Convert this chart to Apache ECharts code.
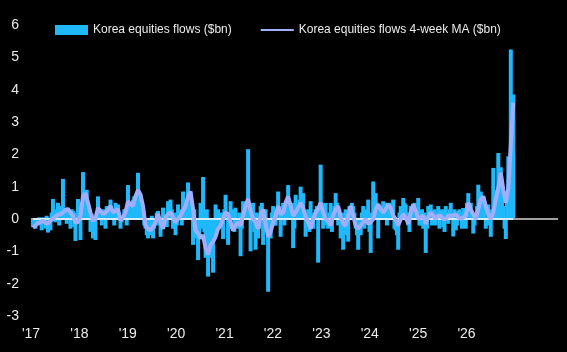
<!DOCTYPE html>
<html>
<head>
<meta charset="utf-8">
<script src="https://cdn.jsdelivr.net/npm/echarts@6/dist/echarts.min.js"></script>
<style>
  html, body { margin: 0; padding: 0; background: #000; }
  #chart { width: 567px; height: 352px; }
</style>
</head>
<body>
<div id="chart"></div>
<script>
// 横轴按年份计，数据从2017年初到2026年初
var startYear = 2017.04;
var barStep = 0.02585;   // 柱子间隔（约1.3周）
var maStep = 0.0517;     // 均线点间隔

var yearTicks = ["'17", "'18", "'19", "'20", "'21", "'22", "'23", "'24", "'25", "'26"];

// Korea equities flows ($bn)
var flows = [
  -0.25, -0.1, -0.3, -0.2, -0.15, 0.05, -0.2, -0.35, 0.05, -0.1,
  -0.3, 0.1, -0.42, -0.2, -0.35, 0.2, 0.62, 0.3, -0.1, 0.25,
  0.5, -0.2, 0.4, 0.25, 1.24, 0.2, 0.3, -0.15, 0.35, 0.2,
  -0.3, 0.3, 0.25, -0.25, -0.68, 0.2, 0.62, 0.3, -0.65, 0.35,
  1.45, 0.6, 0.4, 0.9, 0.3, 0.2, -0.4, 0.15, -0.6, -0.3,
  -0.65, 0.2, 0.7, 0.3, 0.2, -0.2, 0.3, 0.25, -0.3, 0.4,
  0.2, 0.3, 0.6, 0.15, 0.2, -0.2, 0.5, 0.3, 0.45, 0.2,
  -0.3, -0.1, 0.1, 0.3, 0.3, -0.2, 1.05, 0.4, 0.3, 0.2,
  0.6, 0.7, 0.5, 0.3, 1.43, 0.8, 0.6, 0.3, 0.4, -0.2,
  -0.3, -0.5, -0.6, -0.2, -0.5, 0.1, -0.6, -0.3, -0.2, 0.2,
  0.25, -0.2, -0.55, -0.3, 0.35, 0.15, 0.1, -0.25, 0.55, 0.2,
  0.6, 0.3, -0.3, 0.2, -0.5, -0.2, 0.45, 0.2, 0.3, -0.2,
  0.85, 0.3, 0.5, 0.6, 1.13, 0.7, 0.4, 0.2, -0.8, 0.3,
  -0.4, -0.6, -1.27, -0.5, 0.5, -0.3, 1.3, -0.4, -1.2, 0.3,
  -1.78, -0.6, -0.9, -1.2, -1.66, -0.5, 0.45, -0.4, 0.3, -0.2,
  -0.3, 0.2, -0.62, 0.3, 0.75, 0.2, -0.8, -0.3, 0.55, 0.2,
  0.3, -0.4, 0.35, -0.2, -0.3, 0.2, -1.15, -0.3, 0.55, 0.2,
  0.5, 0.35, 2.16, 0.5, -1.0, 0.3, 0.5, -0.4, -0.95, 0.2,
  -0.6, -0.3, 0.4, 0.5, -0.8, 0.2, 0.3, -0.4, -2.25, -0.5,
  -0.6, 0.2, 0.4, -0.2, -0.2, 0.3, 0.85, 0.4, -0.55, 0.2,
  0.5, -0.2, 0.3, 0.6, 1.05, 0.4, 0.2, 0.5, -0.9, -0.3,
  0.75, 0.3, 0.3, 0.6, 1.0, 0.4, 0.8, 0.2, -0.55, -0.2,
  0.3, -0.4, 0.55, -0.2, -0.3, 0.2, 0.3, 0.4, -1.35, 0.3,
  1.68, 0.5, -0.3, 0.3, 0.5, -0.2, -0.3, 0.2, 0.5, -0.4,
  0.2, 0.4, 0.8, 0.5, -0.2, 0.3, -0.6, 0.2, -0.95, -0.3,
  0.3, -0.5, -0.7, 0.4, 0.35, 0.5, 0.4, 0.2, -0.3, -0.5,
  -0.95, -0.3, -0.5, 0.2, 0.4, -0.3, 0.2, 0.3, 0.6, -0.4,
  -1.05, 0.2, 1.16, 0.3, 0.8, 0.5, -0.6, 0.3, 0.2, 0.4,
  0.55, 0.3, 0.5, -0.2, 0.4, 0.5, 0.2, 0.3, 0.6, -0.3,
  -0.35, -0.5, -0.95, 0.2, 0.4, 0.3, 0.65, 0.5, 0.45, 0.2,
  -0.2, -0.4, 0.4, 0.3, 0.4, 0.5, 0.3, 0.2, 0.65, -0.2,
  -0.2, 0.3, -0.3, 0.2, -1.05, -0.3, 0.4, 0.2, 0.45, -0.2,
  0.2, 0.3, -0.2, 0.2, 0.4, -0.3, 0.2, 0.3, -0.25, -0.4,
  0.4, 0.2, -0.15, 0.3, 0.5, 0.2, -0.54, 0.3, -0.35, -0.2,
  0.25, 0.3, 0.2, -0.3, 0.34, 0.2, -0.3, 0.5, 0.8, 0.4,
  0.5, 0.2, -0.45, -0.2, 0.1, 0.4, 1.06, 0.5, 0.85, 0.6,
  0.7, 0.3, -0.3, -0.2, 0.45, 0.2, -0.55, 0.3, 1.58, 0.6,
  0.5, 0.9, 2.04, 1.2, 1.6, 0.8, 0.4, -0.3, -0.62, 0.6,
  1.94, 1.5, 5.24, 3.2, 3.85
];

// Korea equities flows 4-week MA ($bn)
var flowsMA = [
  -0.27, -0.2, -0.12, -0.1, -0.05, -0.12, -0.15, -0.05, 0.0, 0.08,
  0.13, 0.15, 0.2, 0.28, 0.3, 0.2, 0.1, -0.1, -0.1, 0.1,
  0.7, 0.8, 0.5, 0.2, -0.05, 0.0, 0.35, 0.25, 0.15, 0.2,
  0.28, 0.4, 0.2, 0.25, 0.3, -0.05, 0.05, 0.2, 0.55, 0.45,
  0.4, 0.7, 0.9, 0.75, 0.4, -0.2, -0.3, -0.35, -0.25, -0.1,
  0.15, -0.1, -0.3, 0.05, 0.15, 0.2, 0.05, -0.1, 0.0, 0.1,
  0.25, 0.4, 0.7, 0.85, 0.3, -0.35, -0.45, -0.6, -0.5, -0.9,
  -1.1, -0.8, -0.7, -0.55, -0.3, -0.2, 0.0, 0.2, 0.15, -0.1,
  -0.35, -0.2, -0.1, -0.2, 0.1, 0.4, 0.63, 0.25, 0.0, -0.1,
  -0.3, 0.1, 0.3, -0.15, -0.55, -0.4, -0.1, 0.1, 0.4, 0.15,
  0.2, 0.5, 0.7, 0.4, 0.1, 0.2, 0.35, 0.5, 0.35, 0.05,
  -0.1, -0.3, 0.0, 0.2, 0.3, 0.5, 0.2, 0.0, -0.05, -0.2,
  0.1, 0.3, 0.4, 0.05, -0.15, -0.2, 0.1, 0.4, 0.1, -0.2,
  -0.3, -0.2, -0.1, 0.0, -0.15, -0.1, 0.0, 0.3, 0.45, 0.3,
  0.2, 0.3, 0.45, 0.35, 0.1, 0.0, -0.2, 0.0, 0.15, 0.05,
  -0.15, 0.2, 0.45, 0.25, 0.0, 0.05, 0.1, -0.15, 0.05, 0.2,
  0.1, 0.0, 0.1, 0.1, 0.0, 0.0, 0.1, 0.1, 0.1, 0.15,
  0.05, 0.0, 0.05, 0.1, 0.5, 0.3, 0.15, 0.0, 0.3, 0.6,
  0.7, 0.4, 0.15, 0.0, 0.2, 0.6, 0.95, 1.43, 0.9, 0.5,
  0.95, 2.3, 3.6
];

var textColor = '#ececec';
var fontName = "'Liberation Sans', Arial, sans-serif";
var barColor = '#1fb9fb';
var maColor = '#a0aeff';

// 把序号换成横轴上的年份位置
function toXY(arr, step) {
  return arr.map(function (v, i) {
    return [startYear + i * step, v];
  });
}
var barData = toXY(flows, barStep);
var maData = toXY(flowsMA, maStep);
var xFirst = barData[0][0];
var xLast = barData[barData.length - 1][0];

var chart = echarts.init(document.getElementById('chart'));
chart.setOption({
  backgroundColor: '#000',
  animation: false,
  legend: {
    left: 50,
    top: 19,
    itemWidth: 33,
    itemHeight: 10,
    itemGap: 28,
    textStyle: { color: textColor, fontSize: 12, fontFamily: fontName },
    data: [
      { name: 'Korea equities flows ($bn)', icon: 'rect' },
      { name: 'Korea equities flows 4-week MA ($bn)', itemStyle: { opacity: 0 } }
    ]
  },
  grid: { left: 31, right: 9, top: 25, bottom: 36 },
  xAxis: {
    type: 'value',
    min: 2017,
    max: 2027.89,
    interval: 1,
    axisLine: { show: false },
    axisTick: { show: false },
    splitLine: { show: false },
    axisLabel: {
      color: textColor,
      fontSize: 14,
      fontFamily: fontName,
      margin: 11,
      showMaxLabel: false,
      formatter: function (v) {
        if (Math.abs(v - Math.round(v)) > 1e-6) return '';
        return yearTicks[Math.round(v) - 2017] || '';
      }
    }
  },
  yAxis: {
    type: 'value',
    min: -3,
    max: 6,
    interval: 1,
    axisLine: { show: false },
    axisTick: { show: false },
    splitLine: { show: false },
    axisLabel: { color: textColor, fontSize: 14, fontFamily: fontName, margin: 12 }
  },
  series: [
    {
      name: 'Korea equities flows ($bn)',
      type: 'bar',
      data: barData,
      barWidth: 4,
      barMinWidth: 4,
      itemStyle: { color: barColor },
      markLine: {
        silent: true,
        symbol: 'none',
        label: { show: false },
        data: [
          { yAxis: 0, lineStyle: { color: '#a0a0a0', width: 2, type: 'solid' } },
          [
            { coord: [xFirst, 0], lineStyle: { color: '#d2ecff', width: 2, type: 'solid' } },
            { coord: [xLast, 0] }
          ]
        ]
      }
    },
    {
      name: 'Korea equities flows 4-week MA ($bn)',
      type: 'line',
      data: maData,
      symbol: 'none',
      z: 6,
      lineStyle: { color: maColor, width: 4 },
      itemStyle: { color: maColor }
    }
  ]
});
</script>
</body>
</html>
